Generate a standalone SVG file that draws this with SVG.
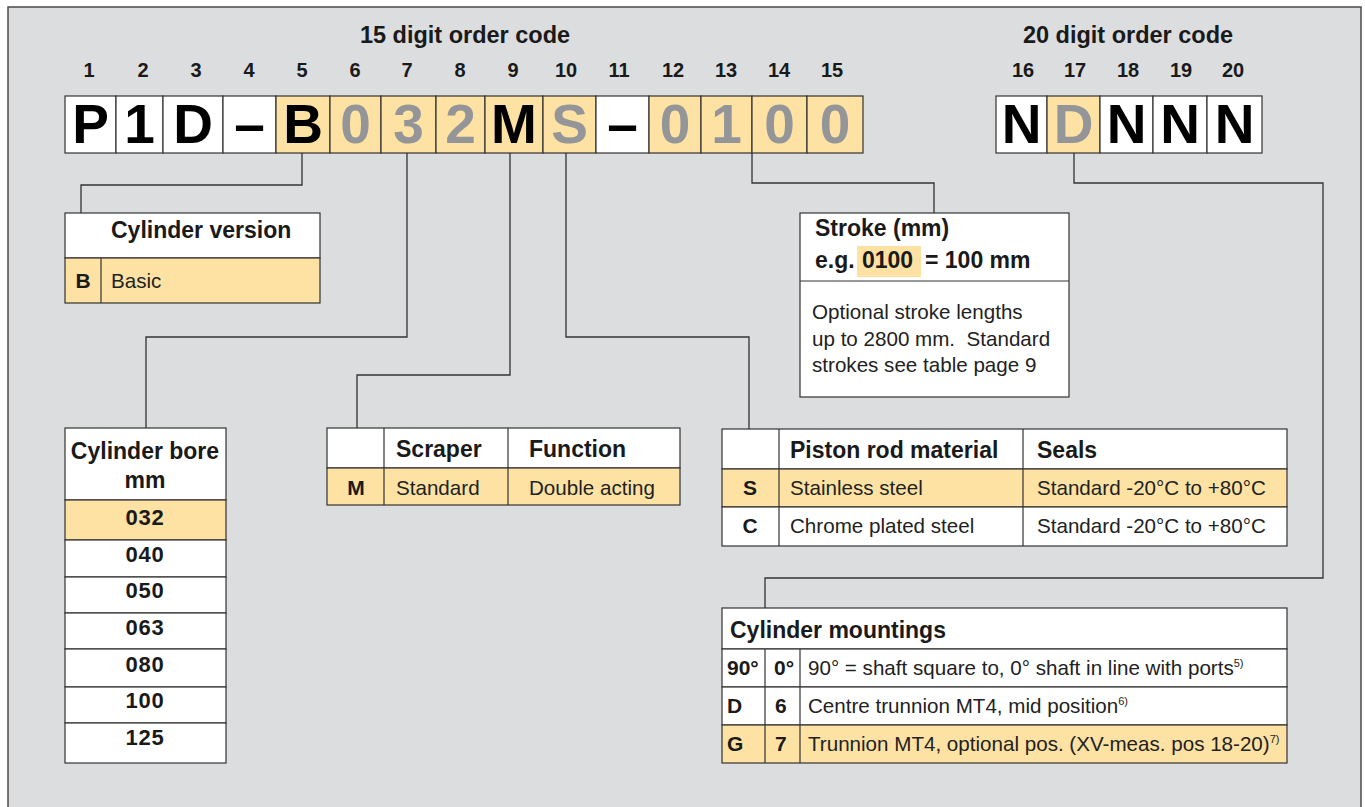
<svg xmlns="http://www.w3.org/2000/svg" width="1365" height="807" viewBox="0 0 1365 807">
<style>
text{font-family:"Liberation Sans",Arial,Helvetica,sans-serif;fill:#1a1a1a}
.frame{fill:#dcdddf;stroke:#4a4a4a;stroke-width:1.5}
.cell{stroke:#333;stroke-width:1.2}
.w{fill:#fff}
.y{fill:#fde2a4}
.ln{fill:none;stroke:#333;stroke-width:1.2}
.conn path{fill:none;stroke:#333;stroke-width:1.3}
.title{font-weight:bold;font-size:23.5px;text-anchor:middle}
.num{font-weight:bold;font-size:20px;text-anchor:middle}
.big{font-weight:bold;font-size:55px;text-anchor:middle;fill:#000}
.gr{fill:#939598}
.h{font-weight:bold;font-size:23px}
.b{font-weight:bold;font-size:21px}
.bc{font-weight:bold;font-size:21px;text-anchor:middle}
.bv{font-weight:bold;font-size:22px;text-anchor:middle;letter-spacing:0.8px}
.r{font-size:20.6px;fill:#222}
.sup{font-size:11px}
</style>
<rect class="frame" x="8" y="7" width="1353" height="830"/>

<g id="code15">
<text class="title" x="465" y="43">15 digit order code</text>
<text class="num" x="89" y="77">1</text>
<text class="num" x="143" y="77">2</text>
<text class="num" x="196" y="77">3</text>
<text class="num" x="249" y="77">4</text>
<text class="num" x="302" y="77">5</text>
<text class="num" x="355" y="77">6</text>
<text class="num" x="407" y="77">7</text>
<text class="num" x="460" y="77">8</text>
<text class="num" x="513" y="77">9</text>
<text class="num" x="566" y="77">10</text>
<text class="num" x="619" y="77">11</text>
<text class="num" x="673" y="77">12</text>
<text class="num" x="726" y="77">13</text>
<text class="num" x="779" y="77">14</text>
<text class="num" x="832" y="77">15</text>
<rect class="cell w" x="65" y="96" width="51" height="57"/>
<rect class="cell w" x="116" y="96" width="47" height="57"/>
<rect class="cell w" x="163" y="96" width="60" height="57"/>
<rect class="cell w" x="223" y="96" width="53" height="57"/>
<rect class="cell y" x="276" y="96" width="54" height="57"/>
<rect class="cell y" x="330" y="96" width="51" height="57"/>
<rect class="cell y" x="381" y="96" width="55" height="57"/>
<rect class="cell y" x="436" y="96" width="49" height="57"/>
<rect class="cell y" x="485" y="96" width="58" height="57"/>
<rect class="cell y" x="543" y="96" width="53" height="57"/>
<rect class="cell w" x="596" y="96" width="53" height="57"/>
<rect class="cell y" x="649" y="96" width="52" height="57"/>
<rect class="cell y" x="701" y="96" width="51" height="57"/>
<rect class="cell y" x="752" y="96" width="55" height="57"/>
<rect class="cell y" x="807" y="96" width="56" height="57"/>
<text class="big" x="90.5" y="143">P</text>
<text class="big" x="139.5" y="143">1</text>
<text class="big" x="193" y="143">D</text>
<text class="big" x="249.5" y="143">–</text>
<text class="big" x="303" y="143">B</text>
<text class="big gr" x="355.5" y="143">0</text>
<text class="big gr" x="408.5" y="143">3</text>
<text class="big gr" x="460.5" y="143">2</text>
<text class="big" x="514" y="143">M</text>
<text class="big gr" x="569.5" y="143">S</text>
<text class="big" x="622.5" y="143">–</text>
<text class="big gr" x="675" y="143">0</text>
<text class="big gr" x="726.5" y="143">1</text>
<text class="big gr" x="779.5" y="143">0</text>
<text class="big gr" x="835" y="143">0</text>
</g>

<g id="code20">
<text class="title" x="1128" y="43">20 digit order code</text>
<text class="num" x="1023" y="77">16</text>
<text class="num" x="1075" y="77">17</text>
<text class="num" x="1128" y="77">18</text>
<text class="num" x="1181" y="77">19</text>
<text class="num" x="1233" y="77">20</text>
<rect class="cell w" x="996" y="96" width="51" height="57"/>
<rect class="cell y" x="1047" y="96" width="53" height="57"/>
<rect class="cell w" x="1100" y="96" width="53" height="57"/>
<rect class="cell w" x="1153" y="96" width="54" height="57"/>
<rect class="cell w" x="1207" y="96" width="55" height="57"/>
<text class="big" x="1021.5" y="143">N</text>
<text class="big gr" x="1073.5" y="143">D</text>
<text class="big" x="1126.5" y="143">N</text>
<text class="big" x="1180" y="143">N</text>
<text class="big" x="1234.5" y="143">N</text>
</g>

<g class="conn" id="connectors">
<path d="M302 153 V185 H81 V213"/>
<path d="M407 153 V337 H146 V428"/>
<path d="M510 153 V375 H357 V428"/>
<path d="M566 153 V337 H749 V429"/>
<path d="M752 153 V183 H934 V213"/>
<path d="M1074 153 V183 H1323 V578 H765 V608"/>
</g>

<g id="cylinder-version">
<rect class="cell w" x="65" y="213" width="255" height="45"/>
<rect class="cell y" x="65" y="258" width="255" height="45"/>
<line class="ln" x1="101" y1="258" x2="101" y2="303"/>
<text class="h" x="111" y="238">Cylinder version</text>
<text class="bc" x="83" y="288">B</text>
<text class="r" x="111" y="288">Basic</text>
</g>

<g id="stroke">
<rect class="cell w" x="800" y="213" width="269" height="184"/>
<line class="ln" x1="800" y1="281" x2="1069" y2="281"/>
<rect class="y" x="857" y="246" width="64" height="31"/>
<text class="h" x="815" y="236">Stroke (mm)</text>
<text class="h" x="815" y="268">e.g.</text>
<text class="h" x="862" y="268">0100</text>
<text class="h" x="925" y="268">= 100 mm</text>
<text class="r" x="812" y="319">Optional stroke lengths</text>
<text class="r" x="812" y="346">up to 2800 mm.&#160; Standard</text>
<text class="r" x="812" y="372">strokes see table page 9</text>
</g>

<g id="cylinder-bore">
<rect class="cell w" x="65" y="428" width="161" height="72"/>
<rect class="cell y" x="65" y="500" width="161" height="40"/>
<rect class="cell w" x="65" y="540" width="161" height="37"/>
<rect class="cell w" x="65" y="577" width="161" height="36"/>
<rect class="cell w" x="65" y="613" width="161" height="36"/>
<rect class="cell w" x="65" y="649" width="161" height="38"/>
<rect class="cell w" x="65" y="687" width="161" height="36"/>
<rect class="cell w" x="65" y="723" width="161" height="40"/>
<text class="h" x="145" y="459" text-anchor="middle">Cylinder bore</text>
<text class="h" x="145" y="488" text-anchor="middle">mm</text>
<text class="bv" x="145" y="525">032</text>
<text class="bv" x="145" y="562">040</text>
<text class="bv" x="145" y="598">050</text>
<text class="bv" x="145" y="635">063</text>
<text class="bv" x="145" y="672">080</text>
<text class="bv" x="145" y="708">100</text>
<text class="bv" x="145" y="745">125</text>
</g>

<g id="scraper">
<rect class="cell w" x="327" y="428" width="353" height="40"/>
<rect class="cell y" x="327" y="468" width="353" height="37"/>
<line class="ln" x1="384" y1="428" x2="384" y2="505"/>
<line class="ln" x1="508" y1="428" x2="508" y2="505"/>
<text class="h" x="396" y="457">Scraper</text>
<text class="h" x="529" y="457">Function</text>
<text class="bc" x="356" y="495">M</text>
<text class="r" x="396" y="495">Standard</text>
<text class="r" x="529" y="495">Double acting</text>
</g>

<g id="piston-rod">
<rect class="cell w" x="722" y="429" width="565" height="40"/>
<rect class="cell y" x="722" y="469" width="565" height="38"/>
<rect class="cell w" x="722" y="507" width="565" height="39"/>
<line class="ln" x1="779" y1="429" x2="779" y2="546"/>
<line class="ln" x1="1023" y1="429" x2="1023" y2="546"/>
<text class="h" x="790" y="458">Piston rod material</text>
<text class="h" x="1037" y="458">Seals</text>
<text class="bc" x="750" y="495">S</text>
<text class="r" x="790" y="495">Stainless steel</text>
<text class="r" x="1037" y="495">Standard -20°C to +80°C</text>
<text class="bc" x="750" y="533">C</text>
<text class="r" x="790" y="533">Chrome plated steel</text>
<text class="r" x="1037" y="533">Standard -20°C to +80°C</text>
</g>

<g id="mountings">
<rect class="cell w" x="722" y="608" width="565" height="41"/>
<rect class="cell w" x="722" y="649" width="565" height="38"/>
<rect class="cell w" x="722" y="687" width="565" height="38"/>
<rect class="cell y" x="722" y="725" width="565" height="38"/>
<line class="ln" x1="765" y1="649" x2="765" y2="763"/>
<line class="ln" x1="800" y1="649" x2="800" y2="763"/>
<text class="h" x="730" y="638">Cylinder mountings</text>
<text class="b" x="727" y="675">90°</text>
<text class="b" x="774" y="675">0°</text>
<text class="r" x="808" y="675">90° = shaft square to, 0° shaft in line with ports<tspan class="sup" dy="-8">5)</tspan></text>
<text class="b" x="727" y="713">D</text>
<text class="b" x="775" y="713">6</text>
<text class="r" x="808" y="713">Centre trunnion MT4, mid position<tspan class="sup" dy="-8">6)</tspan></text>
<text class="b" x="727" y="751">G</text>
<text class="b" x="775" y="751">7</text>
<text class="r" x="808" y="751">Trunnion MT4, optional pos. (XV-meas. pos 18-20)<tspan class="sup" dy="-8">7)</tspan></text>
</g>
</svg>
